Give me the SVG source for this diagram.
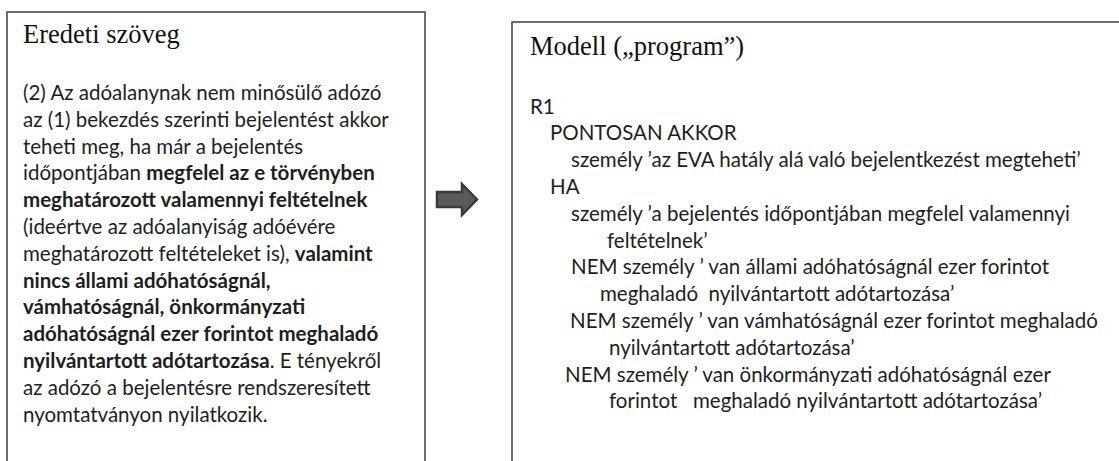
<svg xmlns="http://www.w3.org/2000/svg" width="1119" height="461" viewBox="0 0 1119 461">
  <style>
    .frame { fill: #ffffff; stroke: #3f3f3f; stroke-width: 1.5; }
    .title { font-family: "Liberation Serif", "Times New Roman", serif; font-size: 26.5px; fill: #111111; }
    .body { font-family: "Lato", "Open Sans", sans-serif; font-size: 20.5px; fill: #1e1e1e; white-space: pre; }
    .b { font-weight: bold; }
    .arrow { fill: #5a5a5a; stroke: #3a3a3a; stroke-width: 2.5; stroke-linejoin: miter; }
  </style>

  <rect width="1119" height="461" fill="#ffffff"/>

  <!-- Left panel: original statutory text -->
  <g id="eredeti-szoveg">
    <rect class="frame" x="7" y="12" width="418" height="470"/>
    <text class="title" x="23" y="43">Eredeti szöveg</text>
    <text class="body" x="23" y="100">(2) Az adóalanynak nem minősülő adózó</text>
    <text class="body" x="23" y="126.8">az (1) bekezdés szerinti bejelentést akkor</text>
    <text class="body" x="23" y="153.6">teheti meg, ha már a bejelentés</text>
    <text class="body" x="23" y="180.4">időpontjában <tspan class="b">megfelel az e törvényben</tspan></text>
    <text class="body b" x="23" y="207.2">meghatározott valamennyi feltételnek</text>
    <text class="body" x="23" y="234">(ideértve az adóalanyiság adóévére</text>
    <text class="body" x="23" y="260.8">meghatározott feltételeket is), <tspan class="b">valamint</tspan></text>
    <text class="body b" x="23" y="287.6">nincs állami adóhatóságnál,</text>
    <text class="body b" x="23" y="314.4">vámhatóságnál, önkormányzati</text>
    <text class="body b" x="23" y="341.2">adóhatóságnál ezer forintot meghaladó</text>
    <text class="body" x="23" y="368"><tspan class="b">nyilvántartott adótartozása</tspan>. E tényekről</text>
    <text class="body" x="23" y="394.8">az adózó a bejelentésre rendszeresített</text>
    <text class="body" x="23" y="421.6">nyomtatványon nyilatkozik.</text>
  </g>

  <!-- Connector: block arrow between the panels -->
  <g id="connectors">
    <path class="arrow" d="M437,192 L462,192 L462,184 L477,199.5 L462,215 L462,207 L437,207 Z"/>
  </g>

  <!-- Right panel: rule model -->
  <g id="modell-program">
    <rect class="frame" x="512" y="22" width="620" height="460"/>
    <text class="title" x="530" y="55">Modell („program”)</text>
    <text class="body" x="530" y="113.5">R1</text>
    <text class="body" x="550" y="140.3">PONTOSAN AKKOR</text>
    <text class="body" x="571" y="167.1">személy ’az EVA hatály alá való bejelentkezést megteheti’</text>
    <text class="body" x="550" y="193.9">HA</text>
    <text class="body" x="571" y="220.7">személy ’a bejelentés időpontjában megfelel valamennyi</text>
    <text class="body" x="607" y="247.5">feltételnek’</text>
    <text class="body" x="571" y="274.3">NEM személy ’ van állami adóhatóságnál ezer forintot</text>
    <text class="body" x="600" y="301.1">meghaladó  nyilvántartott adótartozása’</text>
    <text class="body" x="570" y="327.9">NEM személy ’ van vámhatóságnál ezer forintot meghaladó</text>
    <text class="body" x="609" y="354.7">nyilvántartott adótartozása’</text>
    <text class="body" x="565" y="381.5">NEM személy ’ van önkormányzati adóhatóságnál ezer</text>
    <text class="body" x="609" y="408.3">forintot   meghaladó nyilvántartott adótartozása’</text>
  </g>
</svg>
